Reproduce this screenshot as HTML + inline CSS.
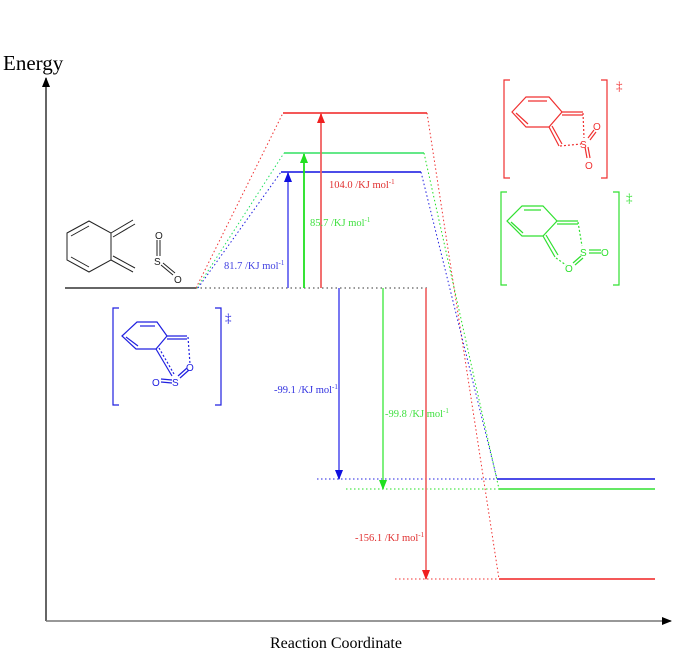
<!DOCTYPE html>
<html><head><meta charset="utf-8"><style>
html,body{margin:0;padding:0;background:#fff;}
svg{display:block;}
text{font-family:"Liberation Serif",serif;}
.m{font-family:"Liberation Sans",sans-serif;font-size:10px;}
</style></head><body>
<svg width="681" height="656" viewBox="0 0 681 656" xmlns="http://www.w3.org/2000/svg">
<defs>
<marker id="ak" markerWidth="10" markerHeight="8" refX="9" refY="4" orient="auto" markerUnits="userSpaceOnUse"><path d="M0,0 L10,4 L0,8 Z" fill="#000"/></marker>
<marker id="ab" markerWidth="10" markerHeight="8" refX="9" refY="4" orient="auto" markerUnits="userSpaceOnUse"><path d="M0,0 L10,4 L0,8 Z" fill="#1010e0"/></marker>
<marker id="ag" markerWidth="10" markerHeight="8" refX="9" refY="4" orient="auto" markerUnits="userSpaceOnUse"><path d="M0,0 L10,4 L0,8 Z" fill="#20e020"/></marker>
<marker id="ar" markerWidth="10" markerHeight="8" refX="9" refY="4" orient="auto" markerUnits="userSpaceOnUse"><path d="M0,0 L10,4 L0,8 Z" fill="#f02020"/></marker>
</defs>
<!-- axes -->
<line x1="46" y1="621" x2="46" y2="78" stroke="#333" stroke-width="1.5" marker-end="url(#ak)"/>
<line x1="46" y1="621" x2="671" y2="621" stroke="#777" stroke-width="1.5" marker-end="url(#ak)"/>
<text x="3" y="70" font-size="21">Energy</text>
<text x="270" y="648" font-size="16">Reaction Coordinate</text>

<!-- reactant -->
<line x1="65" y1="288" x2="196" y2="288" stroke="#333" stroke-width="1.5"/>
<line x1="196" y1="288" x2="430" y2="288" stroke="#333" stroke-width="1" stroke-dasharray="1.5,3"/>

<!-- dotted connectors -->
<g fill="none" stroke-width="1" stroke-dasharray="1.5,2.5">
<polyline points="196,288 283,113" stroke="#f03030"/>
<polyline points="197,288 284,153" stroke="#20e060"/>
<polyline points="198,288 281,172" stroke="#2020e0"/>
<polyline points="427,113 499,579" stroke="#f03030"/>
<polyline points="424,153 499,489" stroke="#20e020"/>
<polyline points="421,172 497,479" stroke="#2020e0"/>
<line x1="317" y1="479" x2="497" y2="479" stroke="#2020e0"/>
<line x1="346" y1="489" x2="499" y2="489" stroke="#20e020"/>
<line x1="395" y1="579" x2="499" y2="579" stroke="#f03030"/>
</g>
<!-- TS levels -->
<line x1="283" y1="113" x2="427" y2="113" stroke="#f02020" stroke-width="1.5"/>
<line x1="284" y1="153" x2="424" y2="153" stroke="#30e060" stroke-width="1.5"/>
<line x1="281" y1="172" x2="421" y2="172" stroke="#1010e0" stroke-width="1.5"/>
<!-- products -->
<line x1="497" y1="479" x2="655" y2="479" stroke="#1010e0" stroke-width="1.5"/>
<line x1="499" y1="489" x2="655" y2="489" stroke="#30e030" stroke-width="1.5"/>
<line x1="499" y1="579" x2="655" y2="579" stroke="#f02020" stroke-width="1.5"/>

<!-- arrows -->
<line x1="288" y1="288" x2="288" y2="173" stroke="#6a6af0" stroke-width="1.8" marker-end="url(#ab)"/>
<line x1="304" y1="288" x2="304" y2="154" stroke="#20e020" stroke-width="1.8" marker-end="url(#ag)"/>
<line x1="321" y1="288" x2="321" y2="114" stroke="#f06060" stroke-width="1.8" marker-end="url(#ar)"/>
<line x1="339" y1="288" x2="339" y2="479" stroke="#6a6af0" stroke-width="1.8" marker-end="url(#ab)"/>
<line x1="383" y1="288" x2="383" y2="489" stroke="#70ee70" stroke-width="1.8" marker-end="url(#ag)"/>
<line x1="426" y1="288" x2="426" y2="579" stroke="#f07070" stroke-width="1.8" marker-end="url(#ar)"/>

<!-- labels -->
<g font-size="10.5">
<text x="224" y="269" fill="#4040e0">81.7  /KJ mol<tspan font-size="7" dy="-4">-1</tspan></text>
<text x="310" y="226" fill="#40e040">85.7 /KJ mol<tspan font-size="7" dy="-4">-1</tspan></text>
<text x="329" y="188" fill="#e03030">104.0 /KJ mol<tspan font-size="7" dy="-4">-1</tspan></text>
<text x="274" y="393" fill="#3030e0">-99.1  /KJ mol<tspan font-size="7" dy="-4">-1</tspan></text>
<text x="385" y="417" fill="#40e040">-99.8 /KJ mol<tspan font-size="7" dy="-4">-1</tspan></text>
<text x="355" y="541" fill="#e03030">-156.1  /KJ mol<tspan font-size="7" dy="-4">-1</tspan></text>
</g>

<!-- reactant molecules -->
<g stroke="#222" stroke-width="1" fill="none">
<polygon points="67,233 89,221 111,233 111,260 89,272 67,260"/>
<line x1="71" y1="257" x2="89" y2="267"/>
<line x1="71" y1="236" x2="89" y2="226"/>
<line x1="111" y1="233" x2="133" y2="220"/><line x1="113" y1="237" x2="135" y2="224"/>
<line x1="111" y1="260" x2="133" y2="272"/><line x1="113" y1="256" x2="135" y2="268"/>
<line x1="157" y1="240" x2="157" y2="256"/><line x1="160" y1="240" x2="160" y2="256"/>
<line x1="161" y1="265" x2="173" y2="275"/><line x1="163" y1="263" x2="175" y2="273"/>
</g>
<text class="m" x="155" y="239" fill="#222">O</text>
<text class="m" x="154" y="265" fill="#222">S</text>
<text class="m" x="174" y="283" fill="#222">O</text>

<!-- blue TS -->
<g stroke="#2020e0" stroke-width="1.2" fill="none">
<polyline points="119,308 113,308 113,405 119,405"/>
<polyline points="215,308 221,308 221,405 215,405"/>
<polygon points="122,336 137,322 157,322 167,336 156,349 136,349"/>
<line x1="140" y1="326" x2="155" y2="326"/><line x1="126" y1="337" x2="138" y2="346"/>
<line x1="167" y1="336" x2="187" y2="336"/><line x1="167" y1="339" x2="187" y2="339"/>
<line x1="188" y1="337" x2="190" y2="364" stroke-dasharray="2,2"/>
<line x1="156" y1="349" x2="172" y2="376"/><line x1="159" y1="348" x2="174" y2="374" stroke-dasharray="2,2"/>
<line x1="161" y1="379" x2="172" y2="380"/><line x1="161" y1="382" x2="172" y2="383"/>
<line x1="178" y1="376" x2="187" y2="368"/><line x1="180" y1="378" x2="189" y2="370"/>
</g>
<g fill="#2020e0"><text class="m" x="186" y="371">O</text><text class="m" x="172" y="386">S</text><text class="m" x="152" y="386">O</text>
<text x="225" y="322" font-size="13">‡</text></g>

<!-- red TS -->
<g stroke="#f03030" stroke-width="1.2" fill="none">
<polyline points="510,80 504,80 504,178 510,178"/>
<polyline points="601,80 607,80 607,178 601,178"/>
<polygon points="512,112 526,97 549,97 562,112 549,127 526,127"/>
<line x1="528" y1="101" x2="547" y2="101"/><line x1="516" y1="113" x2="528" y2="124"/>
<line x1="562" y1="112" x2="583" y2="112"/><line x1="562" y1="115" x2="583" y2="115"/>
<line x1="583" y1="113" x2="584" y2="138" stroke-dasharray="2,2"/>
<line x1="549" y1="127" x2="559" y2="146"/><line x1="552" y1="126" x2="562" y2="144"/>
<line x1="560" y1="146" x2="581" y2="144" stroke-dasharray="2,2"/>
<line x1="588" y1="138" x2="594" y2="130"/><line x1="590" y1="140" x2="596" y2="132"/>
<line x1="585" y1="147" x2="587" y2="158"/><line x1="588" y1="147" x2="590" y2="158"/>
</g>
<g fill="#f03030"><text class="m" x="580" y="148">S</text><text class="m" x="593" y="130">O</text><text class="m" x="585" y="169">O</text>
<text x="616" y="90" font-size="13">‡</text></g>

<!-- green TS -->
<g stroke="#30e030" stroke-width="1.2" fill="none">
<polyline points="507,192 501,192 501,285 507,285"/>
<polyline points="613,192 619,192 619,285 613,285"/>
<polygon points="507,221 522,206 543,206 557,221 543,236 522,236"/>
<line x1="524" y1="210" x2="541" y2="210"/><line x1="511" y1="222" x2="523" y2="233"/>
<line x1="557" y1="221" x2="578" y2="221"/><line x1="557" y1="224" x2="578" y2="224"/>
<line x1="578" y1="222" x2="582" y2="246" stroke-dasharray="2,2"/>
<line x1="543" y1="236" x2="555" y2="257"/><line x1="546" y1="235" x2="558" y2="255"/>
<line x1="556" y1="258" x2="566" y2="265" stroke-dasharray="2,2"/>
<line x1="589" y1="250" x2="601" y2="250"/><line x1="589" y1="253" x2="601" y2="253"/>
<line x1="573" y1="263" x2="581" y2="256"/><line x1="575" y1="265" x2="583" y2="258"/>
</g>
<g fill="#30e030"><text class="m" x="580" y="256">S</text><text class="m" x="601" y="256">O</text><text class="m" x="565" y="272">O</text>
<text x="626" y="202" font-size="13">‡</text></g>
</svg>
</body></html>
